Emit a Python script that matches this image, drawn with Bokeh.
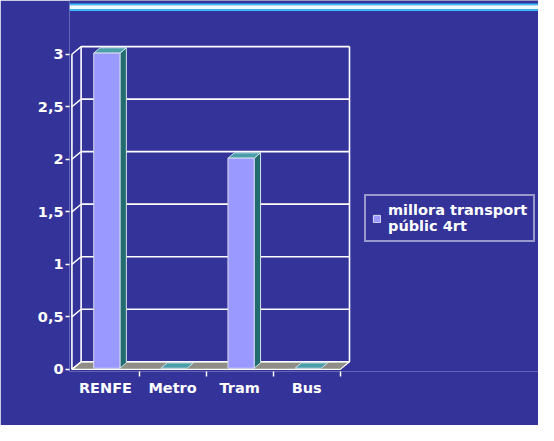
from bokeh.plotting import figure
from bokeh.models import Range1d, FixedTicker, Legend, LegendItem
from bokeh.embed import file_html
from bokeh.resources import INLINE

# ---- data ----
categories = ["RENFE", "Metro", "Tram", "Bus"]
values = [3, 0, 2, 0]
y_ticks = [0, 0.5, 1, 1.5, 2, 2.5, 3]
y_tick_labels = ["0", "0,5", "1", "1,5", "2", "2,5", "3"]
series_name = "millora transport\npúblic 4rt"

# ---- style ----
BG = "#333399"
CYAN = "#3cbfff"
FONT = "DejaVu Sans"
DX, DY = 0.137, 0.073          # 3D depth offset in data units
F0, F1 = 0.15, 0.85            # bar depth (front/back fraction)
HW = 0.195                      # bar half width
n = len(categories)
ymax = max(y_ticks)
W, H = 538, 425
X0, X1 = -0.036, 6.954
Y0, Y1 = -0.02, 3.512
PXY = 371 / (Y1 - Y0)           # pixels per y unit


def py(px_from_top):
    """convert a pixel offset from the frame top into a y data value (decoration only)"""
    return Y1 - px_from_top / PXY


p = figure(width=W, height=H, output_backend="svg", toolbar_location=None,
           x_range=Range1d(X0, X1), y_range=Range1d(Y0, Y1),
           min_border_left=69, min_border_right=0, min_border_top=0, min_border_bottom=54)
p.background_fill_color = BG
p.border_fill_color = BG
p.outline_line_color = None
p.grid.visible = False

# decorative top band (cyan / white / cyan)
p.quad(left=[X0] * 3, right=[X1] * 3, top=[py(2.9), py(4.8), py(8.7)], bottom=[py(4.8), py(8.7), py(10.6)],
       fill_color=[CYAN, "#eefcff", CYAN], line_color=None)

# floor
p.patch([0, n, n + DX, DX], [0, 0, DY, DY], fill_color="#8e8e86", line_color="white", line_width=1.2)

# back wall gridlines
p.segment(x0=[DX] * len(y_ticks), y0=[v + DY for v in y_ticks],
          x1=[n + DX] * len(y_ticks), y1=[v + DY for v in y_ticks], line_color="white", line_width=1.6)
# side wall lines
p.segment(x0=[0] * len(y_ticks), y0=y_ticks, x1=[DX] * len(y_ticks), y1=[v + DY for v in y_ticks],
          line_color="white", line_width=1.4)
# verticals: back-left, back-right, front axis
p.segment(x0=[DX, n + DX, 0], y0=[DY, DY, 0], x1=[DX, n + DX, 0], y1=[ymax + DY, ymax + DY, ymax],
          line_color="white", line_width=1.6)

# bars
side_xs, side_ys, top_xs, top_ys = [], [], [], []
lefts, rights, bottoms, tops = [], [], [], []
for i, v in enumerate(values):
    c = i + 0.5
    l0, r0 = c - HW + F0 * DX, c + HW + F0 * DX
    l1, r1 = c - HW + F1 * DX, c + HW + F1 * DX
    b0, b1 = F0 * DY, F1 * DY
    top_xs.append([l0, r0, r1, l1])
    top_ys.append([v + b0, v + b0, v + b1, v + b1])
    if v > 0:
        side_xs.append([r0, r1, r1, r0])
        side_ys.append([b0, b1, v + b1, v + b0])
        lefts.append(l0); rights.append(r0); bottoms.append(b0); tops.append(v + b0)

p.patches(side_xs, side_ys, fill_color="#226c70", line_color="#d0e4ea", line_width=1)
p.patches(top_xs, top_ys, fill_color="#4a9eaa", line_color="#d0e4ea", line_width=1)
front = p.quad(left=lefts, right=rights, bottom=bottoms, top=tops,
               fill_color="#9999ff", line_color="#d8d8f0", line_width=1)

# axes styling
yax = p.yaxis[0]
yax.ticker = FixedTicker(ticks=y_ticks)
yax.major_label_overrides = dict(zip(y_ticks, y_tick_labels))
yax.axis_line_color = None
yax.major_tick_line_color = "white"
yax.major_tick_line_width = 1.5
yax.major_tick_out = 4
yax.major_tick_in = 0
yax.major_label_standoff = 2

xax = p.xaxis[0]
centers = [i + 0.5 for i in range(n)]
xax.ticker = FixedTicker(ticks=centers, minor_ticks=[i + 1 for i in range(n)])
xax.major_label_overrides = dict(zip(centers, categories))
xax.axis_line_color = None
xax.major_tick_line_color = None
xax.major_tick_out = 0
xax.minor_tick_line_color = "white"
xax.minor_tick_line_width = 1.5
xax.minor_tick_out = 5
xax.minor_tick_in = 0
xax.major_label_standoff = 3

for ax in (xax, yax):
    ax.major_label_text_color = "white"
    ax.major_label_text_font = FONT
    ax.major_label_text_font_style = "bold"
    ax.major_label_text_font_size = "14.5px"

legend = Legend(items=[LegendItem(label=series_name, renderers=[front])], location=(295, 129))
legend.background_fill_alpha = 0
legend.border_line_color = "white"
legend.border_line_width = 2
legend.label_text_color = "white"
legend.label_text_font = FONT
legend.label_text_font_style = "bold"
legend.label_text_font_size = "14.5px"
legend.glyph_width = 9
legend.glyph_height = 9
legend.label_standoff = 7
legend.padding = 6
legend.margin = 0
p.add_layout(legend)

open("out.html", "w").write(file_html(p, INLINE))
